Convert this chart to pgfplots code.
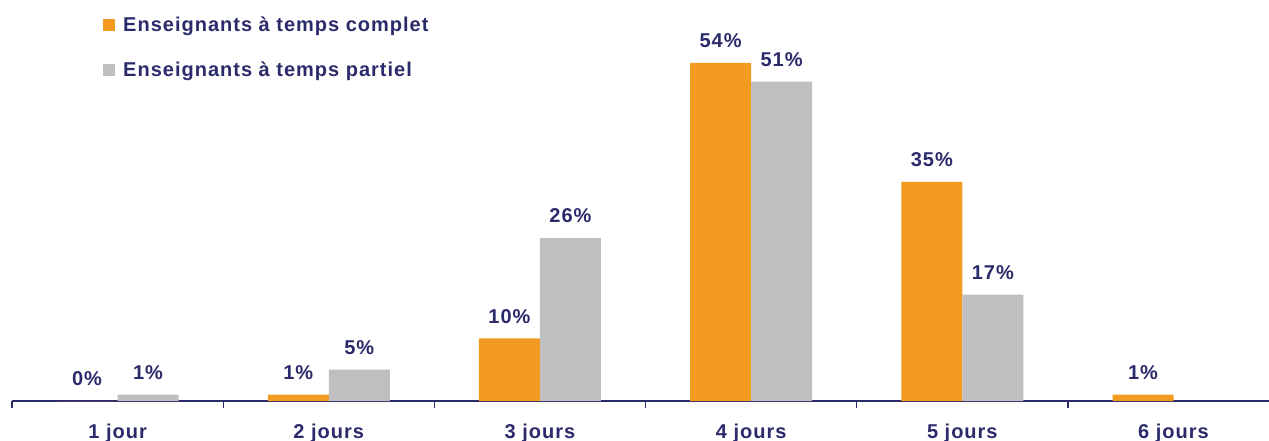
\documentclass[border=0pt]{standalone}
\usepackage{fontspec}
\setmainfont{Liberation Sans}[LetterSpace=5]
\usepackage{pgfplots}
\pgfplotsset{compat=1.18}
\definecolor{navy}{HTML}{2B2A6B}
\definecolor{orng}{HTML}{F39A21}
\definecolor{grey}{HTML}{BFBFBF}
\begin{document}
\begin{tikzpicture}
\path[use as bounding box] (0,0) rectangle (1269bp,441bp);
\begin{axis}[
  at={(12bp,40bp)}, anchor=south west,
  scale only axis, width=1257bp, height=401bp,
  xmin=-0.5, xmax=5.452, ymin=0, ymax=64.06,
  axis y line=none,
  axis x line*=bottom,
  x axis line style={color=navy, line width=1.3pt, -},
  xtick={0,1,2,3,4,5},
  xticklabels={1 jour,2 jours,3 jours,4 jours,5 jours,6 jours},
  major tick length=0pt,
  xticklabel style={font=\fontsize{20bp}{22bp}\selectfont\bfseries, text=navy, anchor=base, yshift=-37bp},
  extra x ticks={-0.5,0.5,1.5,2.5,3.5,4.5},
  extra x tick labels={},
  extra x tick style={major tick length=7bp, tick align=outside, tick style={color=navy, line width=1.3pt}},
  ybar=0pt, bar width=61bp,
  clip=false,
  /pgf/number format/assume math mode=true,
  nodes near coords={\pgfmathprintnumber[fixed,precision=0,assume math mode=true]{\pgfplotspointmeta}\%},
  nodes near coords style={font=\fontsize{20bp}{22bp}\selectfont\bfseries, text=navy, anchor=south, inner sep=0pt, yshift=15bp},
  legend style={at={(0.0724,0.964)}, anchor=north west, draw=none, fill=none, inner sep=0pt,
    font=\fontsize{20bp}{22bp}\selectfont\bfseries, text=navy, row sep=25bp,
    /tikz/every odd column/.append style={column sep=6bp}},
  legend cell align=left,
  legend image code/.code={\fill[#1] (0bp,-6bp) rectangle (12bp,6bp);},
]
\addplot[fill=orng, draw=none] coordinates {(0,0) (1,1) (2,10) (3,54) (4,35) (5,1)};
\addplot[fill=grey, draw=none] coordinates {(0,1) (1,5) (2,26) (3,51) (4,17)};
\legend{Enseignants à temps complet, Enseignants à temps partiel}
\end{axis}
\end{tikzpicture}
\end{document}
